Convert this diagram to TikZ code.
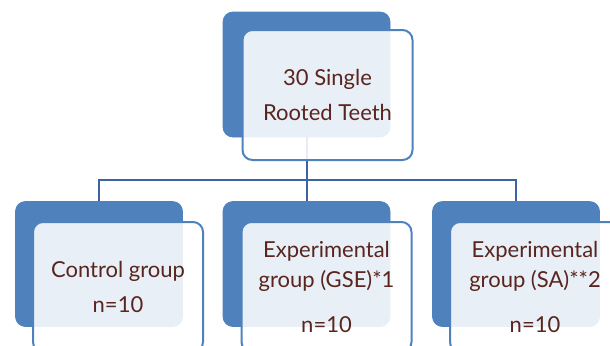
\documentclass[tikz,border=0pt]{standalone}
\usepackage{fontspec}
\setmainfont{Lato}
\usetikzlibrary{positioning}

\definecolor{plateblue}{RGB}{79,129,189}
\definecolor{linkblue}{RGB}{60,100,160}
\definecolor{inkbrown}{RGB}{88,38,30}

\begin{document}
\begin{tikzpicture}[x=0.5pt,y=-0.5pt,
  plate/.style={fill=plateblue, draw=plateblue, rounded corners=5pt,
    minimum width=83.5pt, minimum height=62.5pt},
  card/.style={fill=white, fill opacity=0.88, text opacity=1, draw=plateblue,
    line width=1pt, rounded corners=5pt, minimum width=85pt, minimum height=65pt,
    align=center, text=inkbrown, font=\fontsize{11}{15}\selectfont},
  link/.style={draw=linkblue, line width=1pt}]
  \useasboundingbox (0,0) rectangle (610,345);

  % blue plates behind each card
  \node[plate] (teeth) at (306.5,74.5) {};
  \node[plate] (control) at (99,264) {};
  \node[plate] (gse) at (306.5,264) {};
  \node[plate] (sa) at (516,264) {};

  % connectors go under the cards
  \coordinate (fork) at (306.5,180);
  \draw[link] (teeth.south) -- (fork);
  \foreach \grp in {control,gse,sa}
    \draw[link] (fork) -| (\grp.north);

  % cards with the text
  \node[card] (teethcard) at ([shift={(21,20.5)}]teeth) {30 Single\\[2.5pt] Rooted Teeth};
  \node[card] (controlcard) at ([shift={(19,23)}]control) {Control group\\[2.5pt] n=10};
  \node[card] (gsecard) at ([shift={(20,23)}]gse) {Experimental\\ group (GSE)*1\\[7.5pt] n=10};
  \node[card] (sacard) at ([shift={(19,23)}]sa) {Experimental\\ group (SA)**2\\[7.5pt] n=10};
\end{tikzpicture}
\end{document}
